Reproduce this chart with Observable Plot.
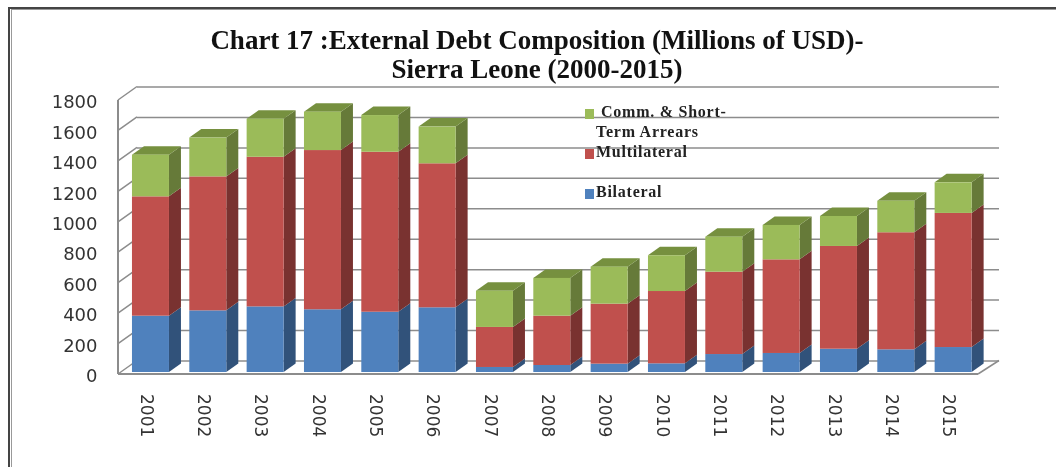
<!DOCTYPE html>
<html>
<head>
<meta charset="utf-8">
<script src="https://cdn.jsdelivr.net/npm/d3@7"></script>
<script src="https://cdn.jsdelivr.net/npm/@observablehq/plot@0.6"></script>
<style>
  html, body { margin: 0; padding: 0; background: #fff; }
  #page { position: relative; width: 1056px; height: 467px; overflow: hidden; background: #fff; filter: blur(0.35px); }
  #frameOuter { position: absolute; left: 8px; top: 7px; width: 1100px; height: 520px; border: 2px solid #444; box-sizing: border-box; }
  #frameInner { position: absolute; left: 11px; top: 9px; width: 1100px; height: 520px; border: 1.5px solid #999; box-sizing: border-box; }
  #title { position: relative; height: 80px; padding-top: 26px; box-sizing: border-box; text-align: center; font: bold 27px/29px "Liberation Serif", serif; color: #111; margin-left: 18px; z-index: 2; }
  #chart { position: relative; line-height: 0; }
  #legend { position: absolute; left: 0; top: 0; font: bold 16px "Liberation Serif", serif; color: #222; letter-spacing: 0.75px; z-index: 3; }
  .sw { position: absolute; width: 9.5px; height: 9.5px; }
  .lb { position: absolute; white-space: nowrap; line-height: 18px; }
</style>
</head>
<body>
<div id="page">
  <div id="frameOuter"></div>
  <div id="frameInner"></div>
  <div id="title">Chart 17 :External Debt Composition (Millions of USD)-<br>Sierra Leone (2000-2015)</div>
  <div id="chart"></div>
  <div id="legend">
    <span class="sw" style="left:584.5px;top:109px;background:#9BBB59"></span>
    <span class="lb" style="left:601px;top:103px">Comm. &amp; Short-</span>
    <span class="lb" style="left:596px;top:123px">Term Arrears</span>
    <span class="sw" style="left:584.5px;top:149px;background:#C0504D"></span>
    <span class="lb" style="left:596px;top:143px">Multilateral</span>
    <span class="sw" style="left:584.5px;top:189px;background:#4F81BD"></span>
    <span class="lb" style="left:596px;top:183px">Bilateral</span>
  </div>
</div>
<script>
const years = ["2001","2002","2003","2004","2005","2006","2007","2008","2009","2010","2011","2012","2013","2014","2015"];
const bilateral = [370,405,431,412,396,425,33,46,55,57,118,125,153,149,164];
const multilateral = [784,880,983,1046,1051,946,263,324,394,475,541,615,675,769,881];
const commShort = [274,255,250,252,241,241,238,248,243,235,230,226,197,207,201];
const seriesNames = ["Bilateral","Multilateral","Comm. & Short-Term Arrears"];
const frontColors = ["#4F81BD","#C0504D","#9BBB59"];
const sideColors = ["#31527A","#793230","#667A39"];
const topColor = "#76903F";
const yTicks = [0,200,400,600,800,1000,1200,1400,1600,1800];

const seriesValues = [bilateral, multilateral, commShort];
const rows = seriesValues.flatMap((vals, s) => vals.map((v, i) => ({year: years[i], series: seriesNames[s], value: v})));

// oblique projection, in pixels
const wallDx = 19, wallDy = -13.5, barDx = 12, barDy = -8.5;
const barShift = 3.8, barLift = -2, barInset = 10.17;
const gridColor = "#8C8C8C";

function walls(index, {x, y}, values, dims, ctx) {
  const g = d3.select(ctx.document.createElementNS("http://www.w3.org/2000/svg", "g"));
  const x0 = dims.marginLeft, x1 = dims.width - dims.marginRight;
  for (const t of yTicks) {
    g.append("line").attr("x1", x0).attr("y1", y(t)).attr("x2", x0 + wallDx).attr("y2", y(t) + wallDy)
      .attr("stroke", gridColor).attr("stroke-width", 1.5);
  }
  g.append("line").attr("x1", x0).attr("y1", y(0)).attr("x2", x0).attr("y2", y(1800))
    .attr("stroke", gridColor).attr("stroke-width", 2);
  g.append("line").attr("x1", x1).attr("y1", y(0)).attr("x2", x1 + wallDx + 2).attr("y2", y(0) + wallDy)
    .attr("stroke", gridColor).attr("stroke-width", 1.5);
  g.append("line").attr("x1", x0).attr("y1", y(0)).attr("x2", x1).attr("y2", y(0))
    .attr("stroke", gridColor).attr("stroke-width", 2.2);
  return g.node();
}

function depthFaces(index, {x, y}, values, dims, ctx) {
  const g = d3.select(ctx.document.createElementNS("http://www.w3.org/2000/svg", "g"));
  const bw = x.bandwidth();
  years.forEach((yr, i) => {
    const xl = x(yr) + barInset + barShift, xr = x(yr) + bw - barInset + barShift;
    let cum = 0;
    seriesValues.forEach((vals, s) => {
      const yb = y(cum) + barLift, yt = y(cum + vals[i]) + barLift;
      cum += vals[i];
      g.append("polygon")
        .attr("points", [[xr,yb],[xr+barDx,yb+barDy],[xr+barDx,yt+barDy],[xr,yt]].join(" "))
        .attr("fill", sideColors[s]);
    });
    const yt = y(cum) + barLift;
    g.append("polygon")
      .attr("points", [[xl,yt],[xl+barDx,yt+barDy],[xr+barDx,yt+barDy],[xr,yt]].join(" "))
      .attr("fill", topColor);
  });
  return g.node();
}

const plot = Plot.plot({
  width: 1056,
  height: 387,
  marginLeft: 118,
  marginRight: 78,
  marginTop: 20,
  marginBottom: 93,
  style: {fontFamily: "'DejaVu Sans', sans-serif", fontSize: "17.5px", background: "transparent", overflow: "visible"},
  x: {type: "band", domain: years, padding: 0, round: false, label: null},
  y: {domain: [0, 1800], label: null},
  color: {domain: seriesNames, range: frontColors},
  marks: [
    Plot.ruleY(yTicks, {y: d => d, dx: wallDx, dy: wallDy, stroke: gridColor, strokeWidth: 1.5, strokeOpacity: 1, insetRight: -2}),
    walls,
    depthFaces,
    Plot.barY(rows, {x: "year", y: "value", fill: "series", order: seriesNames, dx: barShift, dy: barLift, insetLeft: barInset, insetRight: barInset}),
    Plot.axisY(yTicks, {tickSize: 0, tickPadding: 21, label: null, fill: "#333", dy: 2, fontSize: 18, tickFormat: d => String(d)}),
    Plot.axisX({tickSize: 0, tickPadding: 19.5, tickRotate: 90, label: null, fill: "#333", dx: -1, fontSize: 17})
  ]
});
document.getElementById("chart").appendChild(plot);
</script>
</body>
</html>
